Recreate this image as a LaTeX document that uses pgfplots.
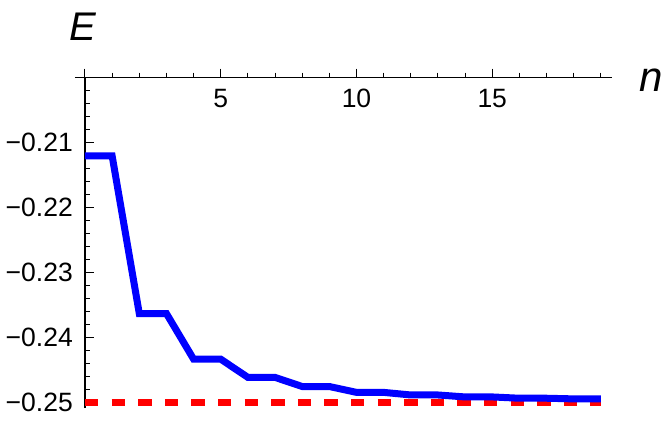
\documentclass[border=0pt]{standalone}
\usepackage{fontspec}
\setmainfont{Liberation Sans}
\usepackage{pgfplots}
\pgfplotsset{compat=1.18}
\begin{document}
\begin{tikzpicture}[x=1pt,y=1pt]
\useasboundingbox (0,0) rectangle (664,-425);
\begin{axis}[
  at={(85pt,-408pt)}, anchor=south west,
  scale only axis, width=526.7pt, height=330.8pt,
  xmin=0, xmax=19.4, ymin=-0.2508, ymax=-0.2,
  axis x line*=top, axis y line*=left,
  clip=false,
  axis line style={line width=1.2pt, black},
  xtick={0,5,10,15}, xticklabels={,5,10,15},
  minor xtick={1,2,3,4,6,7,8,9,11,12,13,14,16,17,18,19},
  ytick={-0.25,-0.24,-0.23,-0.22,-0.21,-0.2},
  yticklabels={−0.25,−0.24,−0.23,−0.22,−0.21,},
  minor ytick={-0.248,-0.246,-0.244,-0.242,-0.238,-0.236,-0.234,-0.232,-0.228,-0.226,-0.224,-0.222,-0.218,-0.216,-0.214,-0.212,-0.208,-0.206,-0.204,-0.202},
  xtick align=outside, ytick align=inside,
  major tick length=8.5pt, minor tick length=4.5pt,
  every tick/.style={black, line width=1pt},
  tick label style={font=\fontsize{26.5}{30}\selectfont, inner sep=0pt},
  xticklabel style={anchor=north, yshift=-20pt},
  yticklabel style={anchor=east, xshift=-12pt},
  xlabel={\textit{n}}, ylabel={\textit{E}},
  every axis x label/.style={at={(axis description cs:1,1)}, anchor=base west, xshift=27.5pt, yshift=-14pt, font=\fontsize{42}{46}\selectfont, inner sep=0pt},
  every axis y label/.style={at={(axis description cs:0,1)}, anchor=base west, xshift=-16pt, yshift=37pt, font=\fontsize{40}{44}\selectfont, inner sep=0pt},
]
\draw[line width=1.2pt, black] (axis cs:-0.37,-0.2) -- (axis cs:0,-0.2);
\addplot[red, line width=7pt, dash pattern=on 13.3pt off 13.3pt] coordinates {(0,-0.25) (19,-0.25)};
\addplot[blue, line width=7pt] coordinates {
(0,-0.2121) (1,-0.2121) (2,-0.2363) (3,-0.2363) (4,-0.2433) (5,-0.2433)
(6,-0.2461) (7,-0.2461) (8,-0.2475) (9,-0.2475) (10,-0.2484) (11,-0.2484)
(12,-0.2488) (13,-0.2488) (14,-0.2491) (15,-0.2491) (16,-0.2493) (17,-0.2493)
(18,-0.2494) (19,-0.2494)};
\end{axis}
\end{tikzpicture}
\end{document}
